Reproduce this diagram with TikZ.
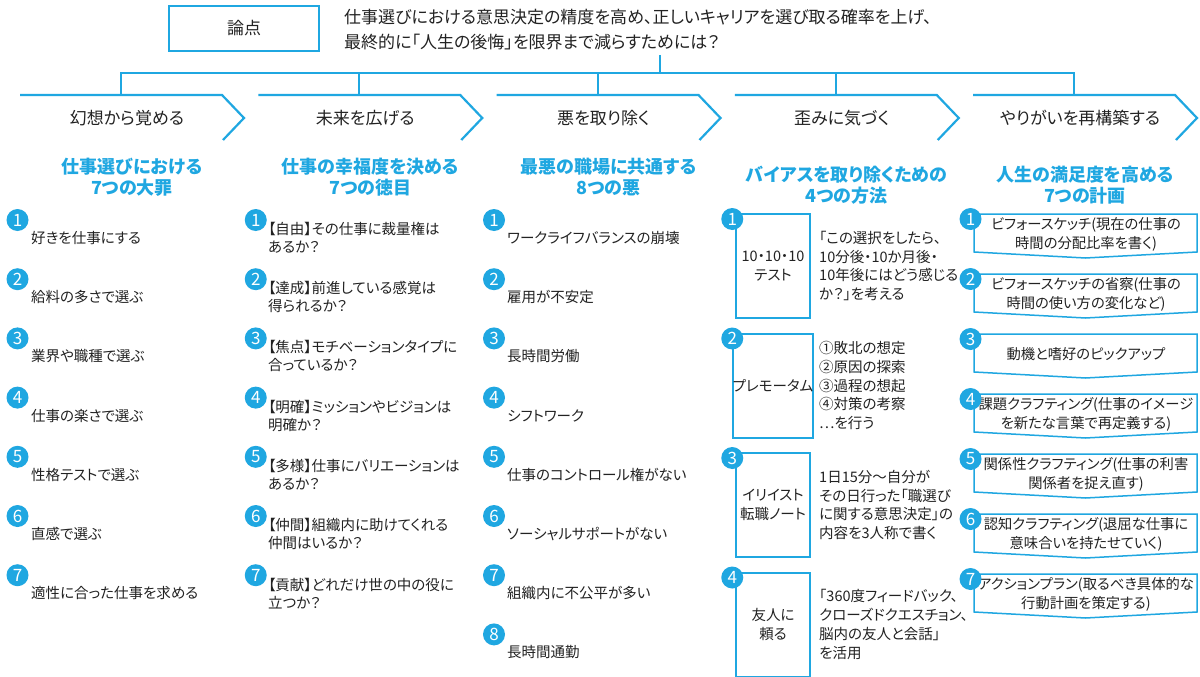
\documentclass[tikz,border=0pt]{standalone}
\usepackage{fontspec}
\setmainfont{Noto Sans CJK JP}[RawFeature={+palt}]
\definecolor{acc}{RGB}{31,167,225}
\definecolor{ink}{RGB}{34,34,34}
\tikzset{
 itm/.style={font=\fontsize{14.5}{18}\selectfont, text=ink, anchor=west, align=left, inner sep=0pt},
 numc/.style={circle, fill=acc, minimum size=22pt, inner sep=0pt, text=white, font=\fontsize{17}{17}\selectfont},
 hdr/.style={font=\fontsize{17}{20}\selectfont, text=ink, inner sep=0pt},
 ttl/.style={font=\fontsize{18}{21}\selectfont\bfseries, text=acc, align=center, inner sep=0pt},
 tree/.style={draw=acc, line width=2pt},
 chev/.style={draw=acc, line width=2.2pt},
 mbox/.style={draw=acc, line width=2pt, fill=white, minimum width=74pt, minimum height=104pt, inner sep=0pt, align=center, font=\fontsize{14.5}{18.5}\selectfont, text=ink},
 pent/.style={draw=acc, line width=1.5pt, fill=white},
 ptxt/.style={font=\fontsize{14.3}{19}\selectfont, text=ink, align=center, inner sep=0pt},
}
\begin{document}
\begin{tikzpicture}[x=1pt,y=-1pt]
\useasboundingbox[fill=white] (0,0) rectangle (1200,677);

% top
\node[draw=acc, line width=2pt, minimum width=150pt, minimum height=45pt, inner sep=0pt, font=\fontsize{17}{20}\selectfont, text=ink] (ronten) at (244,28.5) {論点};
\node[anchor=west, align=left, inner sep=0pt, font=\fontsize{17}{25}\selectfont, text=ink] (q) at (344,29.5) {仕事選びにおける意思決定の精度を高め、正しいキャリアを選び取る確率を上げ、\\最終的に「人生の後悔」を限界まで減らすためには？};

% headers
\foreach \L/\h [count=\i] in {20/幻想から覚める, 258.25/未来を広げる, 496.5/悪を取り除く, 734.75/歪みに気づく, 973/やりがいを再構築する} {
  \draw[chev] (\L,95) -- (\L+202,95) -- (\L+224,118) -- (\L+203,140);
  \node[hdr] (h\i) at (\L+107,118) {\h};
  \coordinate (t\i) at (\L+101,95);
}
\coordinate (qs) at (660,55);
\coordinate (bar) at (660,73);
\draw[tree] (qs) -- (bar);
\draw[tree] (t1) |- (bar) -| (t5);
\foreach \i in {2,3,4} \draw[tree] (t\i) -- (t\i |- bar);

% titles
\node[ttl] (ttl1) at (132,177.5) {仕事選びにおける\\7つの大罪};
\node[ttl] (ttl2) at (370.25,177.5) {仕事の幸福度を決める\\7つの徳目};
\node[ttl] (ttl3) at (608.5,177.5) {最悪の職場に共通する\\8つの悪};
\node[ttl] (ttl4) at (846.75,185) {バイアスを取り除くための\\4つの方法};
\node[ttl] (ttl5) at (1085,185) {人生の満足度を高める\\7つの計画};

% column 1
\foreach \t [count=\i] in {好きを仕事にする, 給料の多さで選ぶ, 業界や職種で選ぶ, 仕事の楽さで選ぶ, 性格テストで選ぶ, 直感で選ぶ, 適性に合った仕事を求める} {
  \pgfmathsetmacro\yy{220+59.2*(\i-1)}
  \node[numc] (an\i) at (17.5,\yy) {\i};
  \node[itm] (a\i) at (31,\yy+18) {\t};
}

% column 2
\foreach \t [count=\i] in {{【自由】その仕事に裁量権は\\あるか？}, {【達成】前進している感覚は\\得られるか？}, {【焦点】モチベーションタイプに\\合っているか？}, {【明確】ミッションやビジョンは\\明確か？}, {【多様】仕事にバリエーションは\\あるか？}, {【仲間】組織内に助けてくれる\\仲間はいるか？}, {【貢献】どれだけ世の中の役に\\立つか？}} {
  \pgfmathsetmacro\yy{220+59.2*(\i-1)}
  \node[numc] (bn\i) at (255.75,\yy) {\i};
  \node[itm] (b\i) at (268,\yy+18) {\t};
}

% column 3
\foreach \t [count=\i] in {ワークライフバランスの崩壊, 雇用が不安定, 長時間労働, シフトワーク, 仕事のコントロール権がない, ソーシャルサポートがない, 組織内に不公平が多い, 長時間通勤} {
  \pgfmathsetmacro\yy{220+59.2*(\i-1)}
  \node[numc] (cn\i) at (494,\yy) {\i};
  \node[itm] (c\i) at (507,\yy+18) {\t};
}

% column 4
\foreach \bt/\rt [count=\i] in {{10・10・10\\テスト}/{「この選択をしたら、\\10分後・10か月後・\\10年後にはどう感じる\\か？」を考える}, {プレモータム}/{①敗北の想定\\②原因の探索\\③過程の想起\\④対策の考察\\…を行う}, {イリイスト\\転職ノート}/{1日15分～自分が\\その日行った「職選び\\に関する意思決定」の\\内容を3人称で書く}, {友人に\\頼る}/{「360度フィードバック、\\クローズドクエスチョン、\\脳内の友人と会話」\\を活用}} {
  \pgfmathsetmacro\T{214+119.5*(\i-1)}
  \node[mbox] (m\i) at (773,\T+52) {\bt};
  \node[itm, font=\fontsize{14.5}{18.8}\selectfont] (r\i) at (819,\T+52) {\rt};
  \node[numc] (mn\i) at (732.25,\T+5) {\i};
}

% column 5
\foreach \pt [count=\i] in {{ビフォースケッチ(現在の仕事の\\時間の分配比率を書く)}, {ビフォースケッチの省察(仕事の\\時間の使い方の変化など)}, {動機と嗜好のピックアップ}, {課題クラフティング(仕事のイメージ\\を新たな言葉で再定義する)}, {関係性クラフティング(仕事の利害\\関係者を捉え直す)}, {認知クラフティング(退屈な仕事に\\意味合いを持たせていく)}, {アクションプラン(取るべき具体的な\\行動計画を策定する)}} {
  \pgfmathsetmacro\T{214+60*(\i-1)}
  \draw[pent] (974,\T) -- (1197,\T) -- (1197,\T+38) -- (1085.5,\T+44) -- (974,\T+38) -- cycle;
  \node[ptxt] (p\i) at (1086,\T+20.5) {\pt};
  \node[numc] (pn\i) at (970.5,\T+5) {\i};
}
\end{tikzpicture}
\end{document}
